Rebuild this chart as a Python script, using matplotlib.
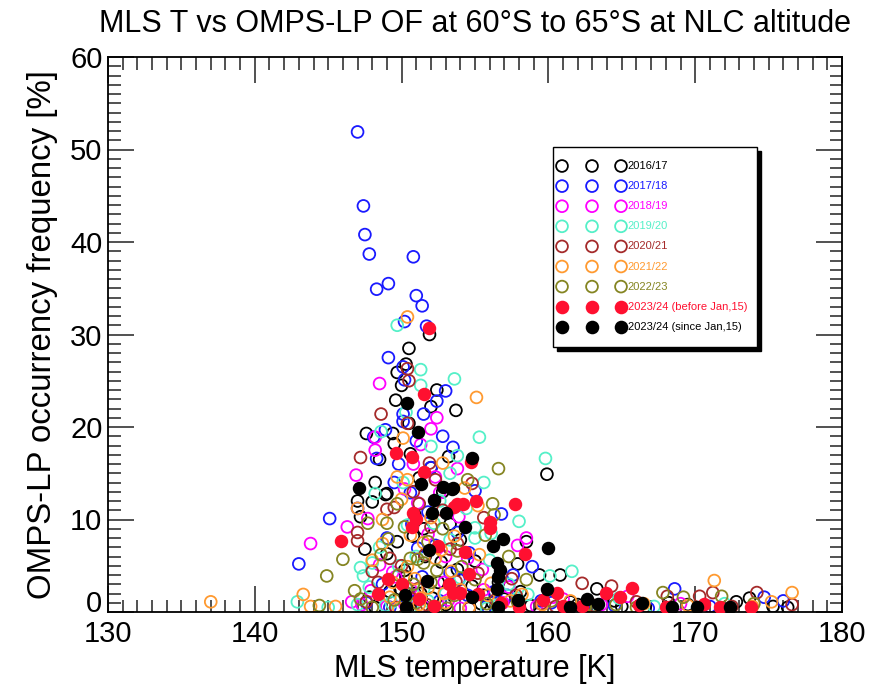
import matplotlib
matplotlib.use("Agg")
import matplotlib.pyplot as plt
from matplotlib.ticker import MultipleLocator, FuncFormatter
from matplotlib.patches import Rectangle

plt.rcParams['font.family'] = ['Liberation Sans', 'DejaVu Sans']

# ---------------- data ----------------
labels = ["2016/17", "2017/18", "2018/19", "2019/20", "2020/21", "2021/22",
          "2022/23", "2023/24 (before Jan,15)", "2023/24 (since Jan,15)"]
colors = ["#000000", "#1a1aff", "#ff00ff", "#55f0c8", "#a52a2a", "#ff9a30",
          "#858522", "#ff1030", "#000000"]
filled = [False, False, False, False, False, False, False, True, True]

t_1617 = [151.9,150.5,150.3,149.7,150.0,152.4,149.6,152.0,153.7,147.6,149.4,150.5,149.5,148.5,149.0,
          147.0,148.0,147.2,147.5,149.7,148.9,159.9,160.8,158.5,159.4,163.3,154.0,157.9,151.2,152.8,
          153.3,150.8,151.6,150.2,152.5,154.8,155.6,156.2,150.6,151.4,153.0,148.2,149.2,150.9,152.1,
          155.4,157.0,158.8,161.5,165.0,168.2,172.8,173.7,176.3,175.3,162.0,150.4,147.8,
          150.9,151.5,149.0,152.7,150.3,153.8,149.9,151.3,155.0,152.0,150.6,148.2,153.2,156.6,158.1,
          164.5,166.6,169.5]
of_1617 = [30.0,28.5,26.8,25.9,24.5,24.0,22.9,22.2,21.8,19.3,19.3,20.4,18.2,16.5,12.8,
           12.0,11.9,10.3,6.8,7.6,12.7,14.9,4.0,7.6,4.0,2.5,7.8,5.2,14.5,13.0,
           9.5,8.2,6.0,4.5,3.2,2.8,1.8,1.0,1.2,0.6,0.8,0.5,2.2,2.0,1.5,
           0.9,1.4,0.7,1.1,0.6,1.0,1.1,1.5,0.5,0.6,0.8,0.3,1.6,
           10.5,9.0,6.3,5.4,3.8,4.6,2.5,2.0,5.5,15.6,17.1,14.0,16.8,3.2,2.2,
           1.2,0.6,0.8]

t_1718 = [147.0,147.4,147.5,147.8,150.8,149.1,148.3,151.0,151.4,150.2,151.7,149.1,150.1,150.2,153.0,
          152.4,151.5,150.1,150.1,148.9,148.1,153.5,148.3,147.0,145.1,143.0,155.0,158.9,157.6,152.0,
          150.6,149.5,151.8,153.8,154.6,156.3,148.7,150.3,152.6,155.8,160.2,162.4,168.6,174.7,176.0,
          164.5,166.8,157.2,153.3,151.1,
          149.8,151.0,152.8,150.7,149.0,152.3,153.9,151.4,150.4,154.5,147.6,149.2,156.8,159.5,171.0]
of_1718 = [51.9,43.9,40.8,38.7,38.4,35.5,34.9,34.2,33.1,31.4,30.9,27.5,26.5,25.1,23.9,
           22.8,21.4,21.4,20.6,19.7,18.9,17.8,16.6,11.2,10.1,5.2,13.1,4.9,4.0,15.6,
           12.9,14.0,10.8,8.6,6.4,2.2,3.0,0.8,1.2,0.6,1.0,0.5,2.5,1.6,1.2,
           0.7,0.4,1.8,4.2,6.9,
           16.0,18.5,19.0,9.5,8.0,7.2,3.5,3.8,2.0,1.8,1.0,0.5,10.6,1.2,0.6]

t_1819 = [148.5,152.4,152.0,148.2,151.3,148.2,146.9,146.3,143.8,147.7,148.5,146.6,151.1,152.3,158.5,
          157.9,153.9,150.8,154.5,149.6,152.9,155.6,153.2,151.5,150.2,156.9,159.2,163.6,165.4,161.0,
          149.0,150.6,154.0,147.3,
          150.2,151.8,153.0,149.4,150.9,155.5,152.6,147.9,157.3,160.3,169.0,153.8]
of_1819 = [24.7,21.0,19.8,18.9,18.1,17.5,14.8,9.2,7.4,10.1,5.1,1.1,11.8,14.6,8.0,
           7.2,10.3,16.0,5.8,3.8,3.2,2.4,1.3,0.6,0.9,1.0,0.6,0.8,1.7,1.4,
           0.6,2.5,0.4,0.8,
           13.3,8.4,6.0,4.3,1.8,4.6,12.9,2.3,2.7,1.6,0.9,15.5]

t_1920 = [149.7,151.3,153.6,151.3,155.3,148.6,152.0,159.8,153.8,155.0,155.0,156.1,158.0,161.6,160.1,
          148.2,147.2,142.9,148.5,147.8,150.4,153.3,147.4,148.0,152.6,154.4,151.0,157.3,149.3,150.7,
          156.6,158.6,162.8,164.8,147.0,145.0,153.0,155.8,151.8,157.9,
          150.1,152.2,149.8,154.0,151.5,156.0,148.9,150.3,155.6,153.3,167.2,172.0]
of_1920 = [31.0,26.2,25.2,24.5,18.9,19.5,17.9,16.6,16.9,9.1,8.0,8.5,9.8,4.4,3.9,
           12.8,4.8,1.1,7.0,2.7,9.4,15.0,3.9,5.3,12.0,11.2,6.0,3.0,1.0,0.6,
           0.8,1.9,0.6,1.5,0.8,0.5,2.0,0.4,1.2,1.5,
           14.0,9.6,5.0,3.7,2.5,5.6,0.7,21.6,14.0,7.8,0.6,0.9]

t_2021 = [148.6,150.4,150.5,150.4,147.2,147.0,147.0,149.0,151.2,149.5,152.3,147.6,151.1,153.3,153.8,
          157.5,162.3,164.3,171.2,174.2,168.1,170.3,150.0,152.0,155.2,148.4,156.4,159.5,166.0,160.5,
          149.6,151.7,154.6,176.6,172.5,
          150.8,152.8,149.2,151.6,153.7,150.6,155.6,148.0,157.8,163.1,151.9,154.8]
of_2021 = [21.4,26.3,25.0,20.4,16.7,8.6,7.7,11.1,11.7,11.3,14.3,1.1,2.5,6.8,7.4,
           3.6,3.1,2.8,2.1,2.1,1.7,1.7,5.0,9.2,4.2,3.2,1.3,0.9,1.1,0.6,
           0.5,0.8,0.4,0.8,0.6,
           13.0,11.0,5.8,6.2,3.3,1.5,10.2,4.4,1.8,0.7,16.1,13.9]

t_2122 = [150.4,155.1,150.1,137.0,143.3,143.8,145.5,147.0,148.0,148.7,149.7,150.4,150.4,152.8,154.3,
          155.2,155.3,156.1,171.3,176.6,175.2,151.5,152.3,153.4,150.9,151.8,149.2,153.0,154.6,157.4,
          159.6,163.0,166.5,169.5,149.8,151.2,152.7,
          150.6,152.0,153.6,149.4,151.3,154.0,155.9,148.7,150.0,152.9,158.2,161.5,173.9]
of_2122 = [31.9,23.2,18.8,1.1,1.9,0.6,0.6,11.2,5.6,10.0,14.6,14.3,4.9,16.1,13.4,
           11.5,6.2,3.1,3.4,2.1,1.1,7.5,5.8,4.4,3.6,2.6,1.6,1.0,0.5,1.2,
           0.8,0.6,0.9,0.7,0.4,0.8,6.7,
           8.3,10.2,8.2,3.2,1.5,2.4,1.8,7.4,12.2,2.0,1.9,1.2,0.6]

t_2223 = [146.0,144.9,147.7,149.0,149.1,146.8,144.4,151.1,147.2,151.5,150.6,149.7,152.8,156.6,154.5,
          156.2,156.3,157.3,154.1,155.0,158.5,167.8,171.8,169.2,150.3,152.0,153.6,151.0,155.8,160.2,
          162.5,164.6,148.0,153.1,
          149.8,150.8,152.4,153.8,151.8,150.2,155.7,149.5,152.2,157.9,166.0,174.0,148.6]
of_2223 = [5.7,3.9,9.6,9.6,7.9,2.3,0.7,5.7,1.4,5.3,5.8,11.7,9.0,15.5,14.3,
           11.7,10.5,6.0,4.9,3.5,3.5,2.1,1.7,1.6,2.6,3.2,1.8,1.0,0.9,1.2,
           0.6,0.8,0.5,0.4,
           4.0,3.0,4.5,6.6,7.6,9.2,8.3,1.3,0.6,1.1,0.5,0.9,6.2]

t_2324a = [151.9,151.5,149.6,150.7,151.5,150.8,151.0,150.7,145.9,152.5,149.1,148.4,150.0,153.2,153.6,
           154.0,154.7,154.2,153.8,155.1,157.7,156.0,156.0,154.3,158.4,154.6,153.5,155.2,160.6,163.9,
           165.7,164.9,159.6,171.7,173.8,152.2,151.2,156.8,158.0,161.0,162.3,166.2,168.0,170.6]
of_2324a = [30.7,23.6,17.2,16.8,15.1,10.7,10.1,9.2,7.7,7.1,3.6,1.9,3.0,3.0,11.4,
            2.1,16.2,11.7,11.7,12.0,11.7,9.7,9.1,6.5,6.3,4.1,2.1,1.9,2.1,2.1,
            2.6,1.6,1.3,0.5,0.5,0.6,1.4,1.0,0.5,0.7,0.6,0.8,0.5,0.9]

t_2324b = [147.1,150.4,151.1,151.3,152.2,152.1,153.0,152.8,153.4,151.9,151.7,150.2,150.3,154.8,153.5,
           154.3,156.9,156.2,160.0,156.5,156.7,156.6,156.5,159.9,154.8,157.9,156.6,162.6,163.4,161.5,
           166.4,168.4,170.1,172.4]
of_2324b = [13.4,22.6,19.5,13.8,12.1,10.7,10.7,13.5,13.3,6.7,3.3,1.8,0.5,16.6,13.4,
            9.2,7.9,7.1,6.9,5.3,4.5,3.8,2.5,2.5,1.6,1.3,0.5,1.4,0.9,0.5,
            1.0,0.5,0.5,0.5]

series_t = [t_1617, t_1718, t_1819, t_1920, t_2021, t_2122, t_2223, t_2324a, t_2324b]
series_of = [of_1617, of_1718, of_1819, of_1920, of_2021, of_2122, of_2223, of_2324a, of_2324b]

# ---------------- figure ----------------
W, H = 869, 687
AX_L, AX_R, AX_T, AX_B = 108, 842, 57, 612
fig = plt.figure(figsize=(W/100, H/100), dpi=100)
ax = fig.add_axes([AX_L/W, 1-AX_B/H, (AX_R-AX_L)/W, (AX_B-AX_T)/H])

S = 72
for t, of, c, f in zip(series_t, series_of, colors, filled):
    if f:
        ax.scatter(t, of, s=S, facecolors=c, edgecolors=c, linewidths=1.2, zorder=3)
    else:
        ax.scatter(t, of, s=S, facecolors='none', edgecolors=c, linewidths=1.3, zorder=2)

ax.set_xlim(130, 180)
ax.set_ylim(0, 60)
ax.xaxis.set_major_locator(MultipleLocator(10))
ax.xaxis.set_minor_locator(MultipleLocator(1))
ax.yaxis.set_major_locator(MultipleLocator(10))
ax.yaxis.set_minor_locator(MultipleLocator(1))
ax.yaxis.set_major_formatter(FuncFormatter(lambda v, p: '' if v == 0 else f'{v:g}'))
ax.tick_params(which='both', direction='in', top=True, right=True, width=1.1, colors='#222222',
               labelcolor='black')
ax.tick_params(which='major', length=19, labelsize=21)
ax.tick_params(axis='x', which='major', pad=6)
ax.tick_params(axis='y', which='major', pad=4)
ax.tick_params(which='minor', length=9)
for sp in ax.spines.values():
    sp.set_linewidth(1.3)

# the "0" of the y axis sits slightly raised, above "130"
ax.annotate("0", xy=(0, 0), xycoords='axes fraction', xytext=(-4, 0), textcoords='offset points',
            ha='right', va='baseline', fontsize=21)

ax.set_xlabel("MLS temperature [K]", fontsize=22, labelpad=4)
ax.set_ylabel("OMPS-LP occurrency frequency [%]", fontsize=23.8, labelpad=9)
ax.set_title("MLS T vs OMPS-LP OF at 60°S to 65°S at NLC altitude", fontsize=22, pad=18)

# ---------------- legend (drawn as a boxed key) ----------------
def fx(px):
    return (px - AX_L) / (AX_R - AX_L)

def fy(py):
    return (AX_B - py) / (AX_B - AX_T)

box_l, box_r, box_t, box_b = 553, 757, 147, 347
sh = 4
ax.add_patch(Rectangle((fx(box_l + sh), fy(box_b + sh)), fx(box_r) - fx(box_l), fy(box_t) - fy(box_b),
                       transform=ax.transAxes, facecolor='black', edgecolor='black', lw=1,
                       zorder=8, clip_on=False))
ax.add_patch(Rectangle((fx(box_l), fy(box_b)), fx(box_r) - fx(box_l), fy(box_t) - fy(box_b),
                       transform=ax.transAxes, facecolor='white', edgecolor='black', lw=1.0,
                       zorder=9, clip_on=False))
row0, drow = 166, 20.1
key_x = [562, 592, 621]
for i, (lab, c, f) in enumerate(zip(labels, colors, filled)):
    yy = fy(row0 + i * drow)
    ax.scatter([fx(x) for x in key_x], [yy] * 3, s=S, transform=ax.transAxes,
               facecolors=(c if f else 'none'), edgecolors=c, linewidths=1.3,
               zorder=10, clip_on=False)
    ax.text(fx(627.5), yy, lab, transform=ax.transAxes, fontsize=8, color=c,
            ha='left', va='center', zorder=11)

fig.savefig("out.png", dpi=100)
